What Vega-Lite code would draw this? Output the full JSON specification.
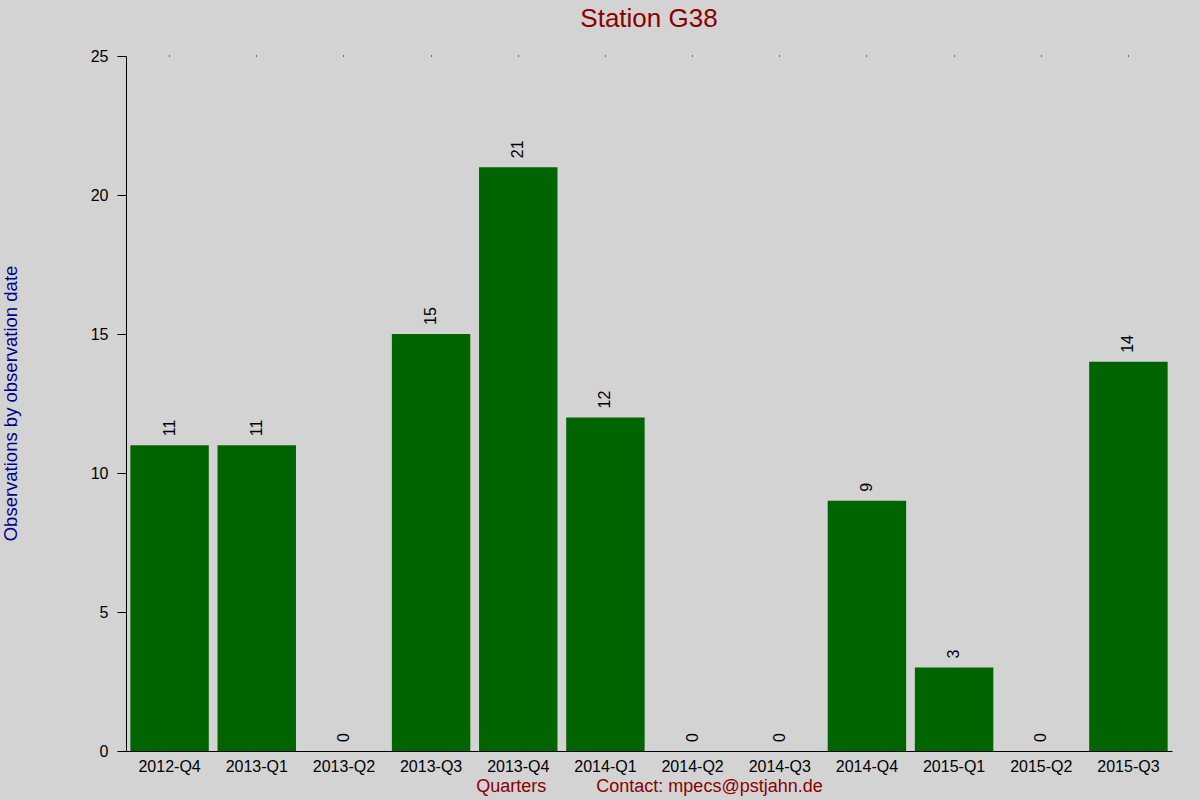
{
  "$schema": "https://vega.github.io/schema/vega-lite/v6.json",
  "width": 1046,
  "height": 695,
  "autosize": {"type": "none"},
  "padding": {"left": 126, "top": 56, "right": 28, "bottom": 49},
  "background": "#D3D3D3",
  "config": {
    "view": {"stroke": null},
    "font": "Liberation Sans"
  },
  "title": {
    "text": "Station G38",
    "color": "#8B0000",
    "fontSize": 26,
    "fontWeight": "normal",
    "font": "Liberation Sans",
    "anchor": "middle",
    "offset": 16
  },
  "data": {
    "values": [
      {"quarter": "2012-Q4", "count": 11},
      {"quarter": "2013-Q1", "count": 11},
      {"quarter": "2013-Q2", "count": 0},
      {"quarter": "2013-Q3", "count": 15},
      {"quarter": "2013-Q4", "count": 21},
      {"quarter": "2014-Q1", "count": 12},
      {"quarter": "2014-Q2", "count": 0},
      {"quarter": "2014-Q3", "count": 0},
      {"quarter": "2014-Q4", "count": 9},
      {"quarter": "2015-Q1", "count": 3},
      {"quarter": "2015-Q2", "count": 0},
      {"quarter": "2015-Q3", "count": 14}
    ]
  },
  "layer": [
    {
      "mark": {"type": "bar", "color": "#006400"},
      "encoding": {
        "x": {
          "field": "quarter",
          "type": "ordinal",
          "sort": null,
          "scale": {"paddingInner": 0.1, "paddingOuter": 0.05},
          "axis": {
            "title": "Quarters\u00a0\u00a0\u00a0\u00a0\u00a0\u00a0\u00a0\u00a0\u00a0\u00a0Contact: mpecs@pstjahn.de",
            "titleColor": "#8B0000",
            "titleFontSize": 18,
            "titleFontWeight": "normal",
            "titleX": 523,
            "titleY": 35,
            "titleBaseline": "middle",
            "labelAngle": 0,
            "labelFontSize": 16,
            "labelColor": "black",
            "labelPadding": 7,
            "ticks": false,
            "domainColor": "black",
            "domainWidth": 1
          }
        },
        "y": {
          "field": "count",
          "type": "quantitative",
          "scale": {"domain": [0, 25], "nice": false},
          "axis": {
            "title": "Observations by observation date",
            "titleColor": "#00008B",
            "titleFontSize": 18.5,
            "titleFontWeight": "normal",
            "titleAngle": -90,
            "titleX": -116,
            "titleY": 347,
            "titleAlign": "center",
            "titleBaseline": "middle",
            "values": [0, 5, 10, 15, 20, 25],
            "grid": false,
            "labelFontSize": 16,
            "labelColor": "black",
            "labelPadding": 9,
            "tickSize": 9,
            "tickColor": "black",
            "domainColor": "black"
          }
        }
      }
    },
    {
      "mark": {
        "type": "text",
        "angle": 270,
        "align": "left",
        "baseline": "middle",
        "dx": 9,
        "fontSize": 16,
        "color": "black"
      },
      "encoding": {
        "x": {
          "field": "quarter",
          "type": "ordinal",
          "sort": null,
          "axis": {
            "orient": "top",
            "title": null,
            "labels": false,
            "domain": false,
            "tickSize": 1,
            "tickColor": "black"
          }
        },
        "y": {"field": "count", "type": "quantitative"},
        "text": {"field": "count", "type": "quantitative"}
      }
    }
  ],
  "resolve": {"axis": {"x": "independent"}}
}
